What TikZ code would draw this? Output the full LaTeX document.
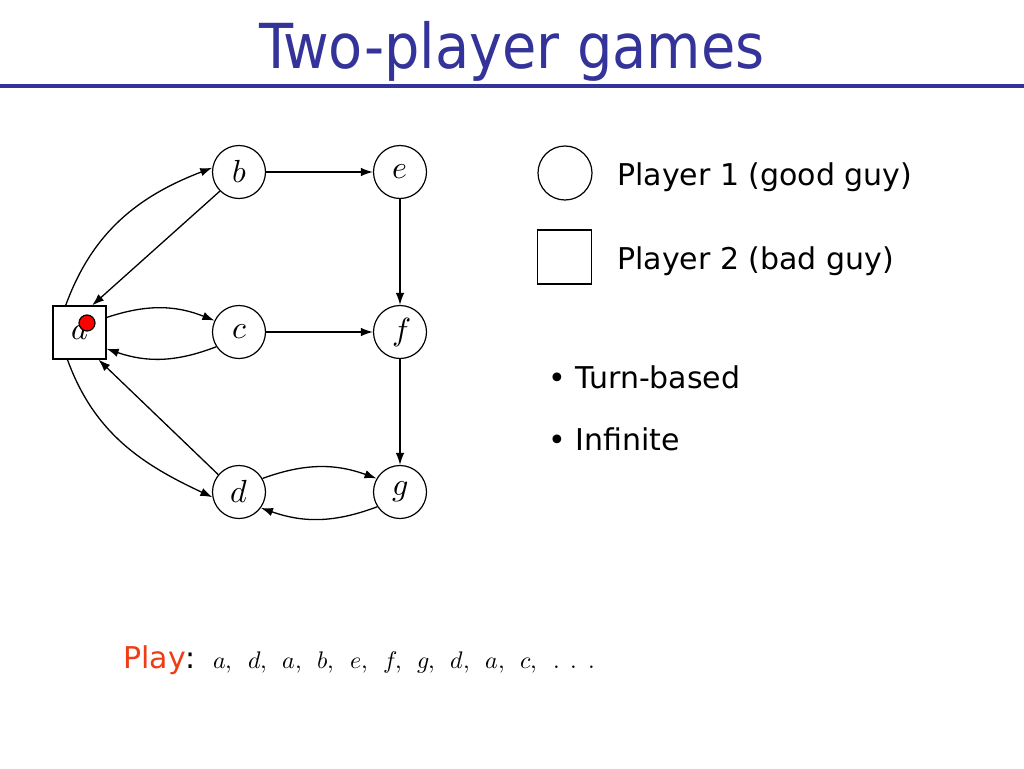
\documentclass[tikz,border=0pt]{standalone}
\usepackage{fontspec}
\setmainfont{DejaVu Sans}
\newfontfamily\titlefont{DejaVu Sans Condensed}
\newfontfamily\lmmath{Latin Modern Math}
\usetikzlibrary{arrows.meta}
\definecolor{titleblue}{RGB}{51,51,153}
\definecolor{playred}{RGB}{240,60,20}
\newcommand{\gap}{\hspace{15.5pt}}
\begin{document}
\begin{tikzpicture}[x=1pt,y=-1pt,
  pl1/.style={circle,draw,line width=1.2pt,minimum size=53pt,inner sep=0pt,font=\lmmath\fontsize{32}{38}\selectfont},
  pl2/.style={rectangle,draw,line width=1.2pt,minimum size=53pt,inner sep=0pt,font=\lmmath\fontsize{32}{38}\selectfont},
  arr/.style={line width=1.3pt,-{Latex[length=12pt,width=8.5pt]}},
  txt/.style={anchor=base west,inner sep=0pt,font=\fontsize{30}{36}\selectfont}]
\useasboundingbox (0,0) rectangle (1024,768);
% title
\node[anchor=base,inner sep=0pt,text=titleblue,font=\titlefont\fontsize{62}{70}\selectfont] (title) at (512,68) {Two-player games};
\draw[titleblue,line width=4pt] (0,86) -- (1024,86);
% graph
\node[pl2] (a) at (79.5,332.5) {𝑎};
\node[pl1] (b) at (239,172) {𝑏};
\node[pl1] (c) at (239,332) {𝑐};
\node[pl1] (d) at (239,492) {𝑑};
\node[pl1] (e) at (400,172) {𝑒};
\node[pl1] (f) at (400,332) {𝑓};
\node[pl1] (g) at (400,492) {𝑔};
\node[circle,fill=red,draw=black,line width=1.2pt,minimum size=16pt,inner sep=0pt] (tok) at (87,323) {};
\draw[arr] (a.117) to[out=70,in=201] (b.171);
\draw[arr] (b.225) -- (a.65);
\draw[arr] (a.29) to[bend left=20] (c.155);
\draw[arr] (c.213) to[bend left=20] (a.-31);
\draw[arr] (a.246) to[out=-70,in=155] (d.191);
\draw[arr] (d.140) -- (a.-55);
\draw[arr] (b) -- (e);
\draw[arr] (e) -- (f);
\draw[arr] (c) -- (f);
\draw[arr] (f) -- (g);
\draw[arr] (d.30) to[bend left=20] (g.150);
\draw[arr] (g.213) to[bend left=20] (d.-36);
% legend
\node[circle,draw,line width=1.2pt,minimum size=54pt,inner sep=0pt] (l1) at (565,173) {};
\node[rectangle,draw,line width=1.2pt,minimum size=54pt,inner sep=0pt] (l2) at (564.5,257) {};
\node[txt] (t1) at (617,185) {Player 1 (good guy)};
\node[txt] (t2) at (617,269) {Player 2 (bad guy)};
\node[txt] (t3) at (548,388) {\textbullet\ Turn-based};
\node[txt] (t4) at (548,450) {\textbullet\ Infinite};
% play
\node[txt] (play) at (123,668) {\textcolor{playred}{Play}:};
\node[anchor=base west,inner sep=0pt,font=\lmmath\fontsize{24}{30}\selectfont] (seq) at (213,668) {𝑎,\gap 𝑑,\gap 𝑎,\gap 𝑏,\gap 𝑒,\gap 𝑓,\gap 𝑔,\gap 𝑑,\gap 𝑎,\gap 𝑐,\gap .\hspace{11pt}.\hspace{11pt}.};
\end{tikzpicture}
\end{document}
